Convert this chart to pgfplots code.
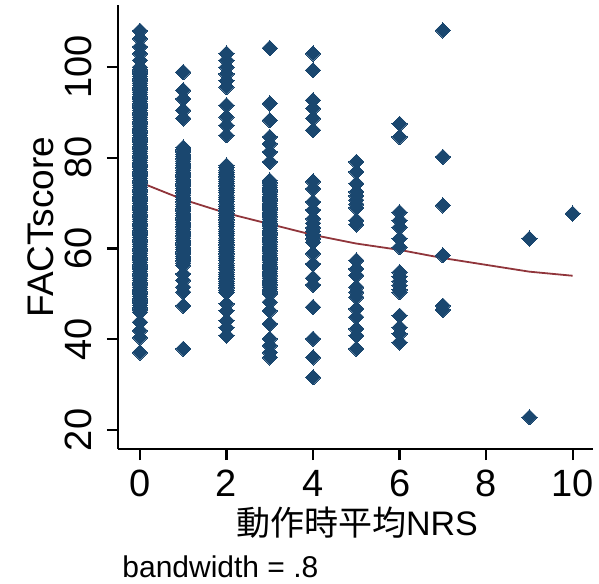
\documentclass[border=0pt]{standalone}
\usepackage{pgfplots}
\pgfplotsset{compat=1.18}
\usepackage{fontspec}
\setmainfont{Liberation Sans}
\newfontfamily\cjk{Noto Sans CJK JP}
\definecolor{stnavy}{RGB}{26,71,111}
\definecolor{stmaroon}{RGB}{144,53,59}

\begin{document}
\begin{tikzpicture}
\useasboundingbox (-59pt,-67pt) rectangle (240.5pt,224.5pt);
\begin{axis}[
  scale only axis, width=237.5pt, height=222pt,
  xmin=-0.508, xmax=10.47, ymin=15.8, ymax=113.7,
  axis x line*=bottom, axis y line*=left,
  axis line style={line width=1.2pt, -},
  tick align=outside, major tick length=5.5pt,
  tick style={line width=1.1pt, black},
  xtick={0,2,...,10}, ytick={20,40,...,100},
  minor tick num=0,
  /pgf/number format/assume math mode=true,
  tick label style={font=\fontsize{19}{20}\selectfont},
  yticklabel style={rotate=90, anchor=south, inner sep=0pt, yshift=7.5pt},
  xticklabel style={anchor=north, inner sep=0pt, yshift=-5pt},
  label style={font=\fontsize{18.5}{20}\selectfont},
  xlabel={{\cjk 動作時平均}NRS},
  xlabel style={at={(axis description cs:0.503,-0.1937)}, anchor=base,
    font=\fontsize{17}{18}\selectfont},
  ylabel={FACTscore},
  ylabel style={at={(axis description cs:-0.1368,0.5)}, anchor=base},
  clip=false,
]
% observations
\addplot[only marks, mark=square*, mark size=2.7pt,
  mark options={rotate=45, fill=stnavy, draw=stnavy, line width=0pt}]
coordinates {
  % NRS = 0
  (0,108) (0,106.3) (0,104.5) (0,103) (0,101.5)
  (0,100) (0,99.5) (0,99) (0,98.5) (0,98) (0,97.5) (0,97) (0,96.5) (0,96) (0,95.5)
  (0,95) (0,94.5) (0,94) (0,93.5) (0,93) (0,92.5) (0,92) (0,91.5) (0,91) (0,90.5)
  (0,90) (0,89.5) (0,89) (0,88.5) (0,88) (0,87.5) (0,87) (0,86.5) (0,86) (0,85.5)
  (0,85) (0,84.5) (0,84) (0,83.5) (0,83) (0,82.5) (0,82) (0,81.5) (0,81) (0,80.5)
  (0,80) (0,79.5) (0,79) (0,78.5) (0,78) (0,77.5) (0,77) (0,76.5) (0,76) (0,75.5)
  (0,75) (0,74.5) (0,74) (0,73.5) (0,73) (0,72.5) (0,72) (0,71.5) (0,71) (0,70.5)
  (0,70) (0,69.5) (0,69) (0,68.5) (0,68) (0,67.5) (0,67) (0,66.5) (0,66) (0,65.5)
  (0,65) (0,64.5) (0,64) (0,63.5) (0,63) (0,62.5) (0,62) (0,61.5) (0,61) (0,60.5)
  (0,60) (0,59.5) (0,59) (0,58.5) (0,58) (0,57.5) (0,57) (0,56.5) (0,56) (0,55.5)
  (0,55) (0,54.5) (0,54) (0,53.5) (0,53) (0,52.5) (0,52) (0,51.5) (0,51) (0,50.5)
  (0,50) (0,49.5) (0,49) (0,48.5) (0,48) (0,47.5) (0,47) (0,46.5) (0,46)
  (0,43.8) (0,41.9) (0,40.4) (0,37.1)
  % NRS = 1
  (1,98.9) (1,94.9) (1,93) (1,90.5) (1,88.7)
  (1,82.3) (1,81.8) (1,81.3) (1,80.8) (1,80.3) (1,79.8) (1,79.3) (1,78.8)
  (1,78.3) (1,77.8) (1,77.3) (1,76.8) (1,76.3) (1,75.8) (1,75.3) (1,74.8)
  (1,74.3) (1,73.8) (1,73.3) (1,72.8) (1,72.3) (1,71.8) (1,71.3) (1,70.8)
  (1,70.3) (1,69.8) (1,69.3) (1,68.8) (1,68.3) (1,67.8) (1,67.3) (1,66.8)
  (1,66.3) (1,65.8) (1,65.3) (1,64.8) (1,64.3) (1,63.8) (1,63.3) (1,62.8)
  (1,62.3) (1,61.8) (1,61.3) (1,60.8) (1,60.3) (1,59.8) (1,59.3) (1,58.8)
  (1,58.3) (1,57.8) (1,57.3) (1,56.8) (1,56.3)
  (1,54.4) (1,53) (1,51.5) (1,50.4) (1,47.4) (1,37.9)
  % NRS = 2
  (2,103) (2,101.5) (2,100) (2,98.5) (2,97) (2,95.6) (2,91.6) (2,89) (2,87.2) (2,85)
  (2,78.3) (2,77.8) (2,77.3) (2,76.8) (2,76.3) (2,75.8) (2,75.3) (2,74.8)
  (2,74.3) (2,73.8) (2,73.3) (2,72.8) (2,72.3) (2,71.8) (2,71.3) (2,70.8)
  (2,70.3) (2,69.8) (2,69.3) (2,68.8) (2,68.3) (2,67.8) (2,67.3) (2,66.8)
  (2,66.3) (2,65.8) (2,65.3) (2,64.8) (2,64.3) (2,63.8) (2,63.3) (2,62.8)
  (2,62.3) (2,61.8) (2,61.3) (2,60.8) (2,60.3) (2,59.8) (2,59.3) (2,58.8)
  (2,58.3) (2,57.8) (2,57.3) (2,56.8) (2,56.3) (2,55.8) (2,55.3) (2,54.8)
  (2,54.3) (2,53.8) (2,53.3) (2,52.8) (2,52.3) (2,51.8) (2,51.3) (2,50.8) (2,50.3)
  (2,47.8) (2,46.3) (2,44.1) (2,42.6) (2,40.8)
  % NRS = 3
  (3,104.2) (3,92) (3,88.3) (3,84.6) (3,83.1) (3,81.3) (3,79.1)
  (3,75) (3,74.5) (3,74) (3,73.5) (3,73) (3,72.5) (3,72) (3,71.5) (3,71) (3,70.5)
  (3,70) (3,69.5) (3,69) (3,68.5) (3,68) (3,67.5) (3,67) (3,66.5) (3,66) (3,65.5)
  (3,65) (3,64.5) (3,64) (3,63.5) (3,63) (3,62.5) (3,62) (3,61.5) (3,61) (3,60.5)
  (3,60) (3,59.5) (3,59) (3,58.5) (3,58) (3,57.5) (3,57) (3,56.5) (3,56) (3,55.5)
  (3,55) (3,54.5) (3,54) (3,53.5) (3,53) (3,52.5) (3,52) (3,51.5) (3,51) (3,50.5) (3,50)
  (3,48.2) (3,46.3) (3,43.4) (3,40.1) (3,38.6) (3,37.1) (3,36)
  % NRS = 4
  (4,103) (4,99.3) (4,92.7) (4,90.9) (4,88.7) (4,86.1)
  (4,74.8) (4,73.2) (4,70.3) (4,68.5) (4,66.6) (4,65.6) (4,64.6) (4,63.8)
  (4,63) (4,62.2) (4,61.4) (4,58.9) (4,56.6) (4,53.5) (4,52) (4,47.1) (4,40.1) (4,36) (4,31.6)
  % NRS = 5
  (5,79.1) (5,76.9) (5,74.3) (5,72.5) (5,71.6) (5,70.7) (5,69.8) (5,69) (5,66.2) (5,65.3)
  (5,57.4) (5,55.5) (5,54.1) (5,51.5) (5,50.4) (5,49.3) (5,46.7) (5,44.9)
  (5,42.3) (5,40.8) (5,37.9)
  % NRS = 6
  (6,87.5) (6,84.6) (6,68) (6,66.2) (6,64.7) (6,62.2) (6,60.3)
  (6,54.8) (6,53.8) (6,52.8) (6,51.9) (6,50.9) (6,50.4) (6,45.2) (6,42.6) (6,41.2) (6,39.3)
  % NRS = 7
  (7,108.1) (7,80.2) (7,69.5) (7,58.5) (7,47.4) (7,46.5)
  % NRS = 9, 10
  (9,62.2) (9,22.8) (10,67.7)
};
% lowess smoother, bandwidth 0.8
\addplot[stmaroon, line width=0.9pt, mark=none]
coordinates {
  (0,74.6) (1,70.8) (2,67.8) (3,65.4) (4,63.0) (5,61.1)
  (6,59.7) (7,57.9) (9,54.9) (10,54.0)
};
\end{axis}
\node[anchor=base west, font=\fontsize{15}{16}\selectfont, inner sep=0pt]
  at (2pt,-64pt) {bandwidth = .8};
\end{tikzpicture}
\end{document}
